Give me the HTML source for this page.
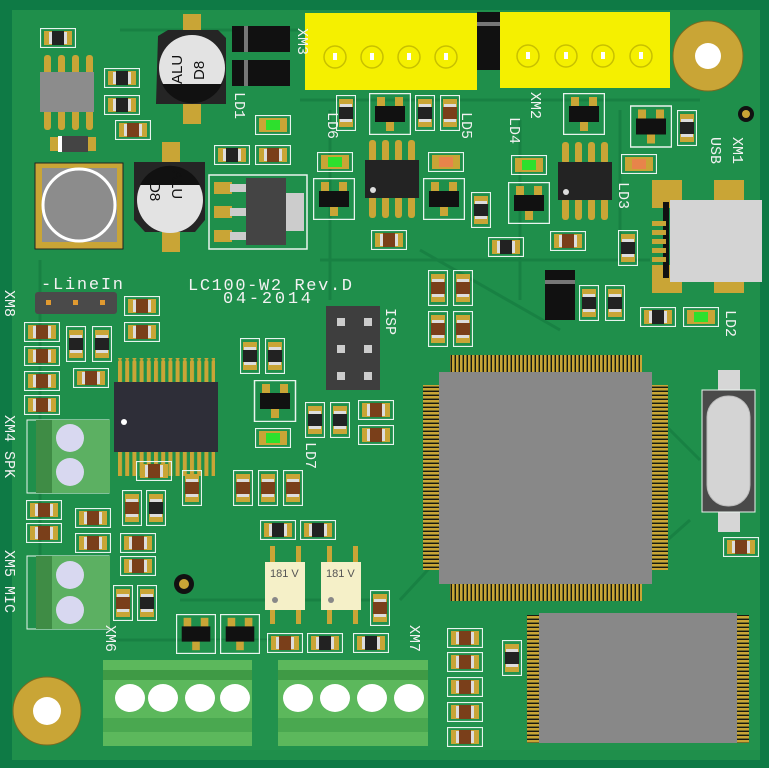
<!DOCTYPE html>
<html><head><meta charset="utf-8"><style>
html,body{margin:0;padding:0;background:#0e7a45;}
svg{display:block}
text{font-family:"Liberation Mono","DejaVu Sans Mono",monospace;fill:#f2f2f2;}
</style></head><body>
<svg width="769" height="768" viewBox="0 0 769 768" xmlns="http://www.w3.org/2000/svg">
<defs>
<symbol id="rh" viewBox="0 0 36 20"><rect x="0.5" y="0.5" width="35" height="19" fill="none" stroke="#e8f4ee" stroke-width="1.2"/><rect x="4" y="3" width="28" height="14" fill="#c9a536"/><rect x="9" y="4" width="3" height="12" fill="#ddd"/><rect x="24" y="4" width="3" height="12" fill="#ddd"/><rect x="12" y="3" width="12" height="14" fill="#7a3f1a"/></symbol>
<symbol id="ch" viewBox="0 0 36 20"><rect x="0.5" y="0.5" width="35" height="19" fill="none" stroke="#e8f4ee" stroke-width="1.2"/><rect x="4" y="3" width="28" height="14" fill="#c9a536"/><rect x="9" y="4" width="3" height="12" fill="#ddd"/><rect x="24" y="4" width="3" height="12" fill="#ddd"/><rect x="12" y="3" width="12" height="14" fill="#222"/></symbol>
<symbol id="rv" viewBox="0 0 20 36"><rect x="0.5" y="0.5" width="19" height="35" fill="none" stroke="#e8f4ee" stroke-width="1.2"/><rect x="3" y="4" width="14" height="28" fill="#c9a536"/><rect x="4" y="9" width="12" height="3" fill="#ddd"/><rect x="4" y="24" width="12" height="3" fill="#ddd"/><rect x="3" y="12" width="14" height="12" fill="#7a3f1a"/></symbol>
<symbol id="cv" viewBox="0 0 20 36"><rect x="0.5" y="0.5" width="19" height="35" fill="none" stroke="#e8f4ee" stroke-width="1.2"/><rect x="3" y="4" width="14" height="28" fill="#c9a536"/><rect x="4" y="9" width="12" height="3" fill="#ddd"/><rect x="4" y="24" width="12" height="3" fill="#ddd"/><rect x="3" y="12" width="14" height="12" fill="#222"/></symbol>
<symbol id="led" viewBox="0 0 36 20"><rect x="0.5" y="0.5" width="35" height="19" fill="none" stroke="#e8f4ee" stroke-width="1.2"/><rect x="4" y="3" width="28" height="14" fill="#c9a536"/><rect x="11" y="5" width="14" height="10" fill="#2de02d"/></symbol>
<symbol id="ledo" viewBox="0 0 36 20"><rect x="0.5" y="0.5" width="35" height="19" fill="none" stroke="#e8f4ee" stroke-width="1.2"/><rect x="4" y="3" width="28" height="14" fill="#c9a536"/><rect x="11" y="5" width="14" height="10" fill="#e8844a"/></symbol>
<symbol id="sot" viewBox="0 0 42 42"><rect x="0.5" y="0.5" width="41" height="41" fill="none" stroke="#e8f4ee" stroke-width="1.5"/><rect x="8" y="4" width="8" height="10" fill="#c9a536"/><rect x="26" y="4" width="8" height="10" fill="#c9a536"/><rect x="17" y="28" width="8" height="10" fill="#c9a536"/><rect x="6" y="13" width="30" height="16" fill="#111"/></symbol>
<symbol id="so8" viewBox="0 0 58 78"><g fill="#c9a536"><rect x="4" y="0" width="7" height="22" rx="3"/><rect x="17" y="0" width="7" height="22" rx="3"/><rect x="30" y="0" width="7" height="22" rx="3"/><rect x="43" y="0" width="7" height="22" rx="3"/><rect x="4" y="56" width="7" height="22" rx="3"/><rect x="17" y="56" width="7" height="22" rx="3"/><rect x="30" y="56" width="7" height="22" rx="3"/><rect x="43" y="56" width="7" height="22" rx="3"/></g><rect x="0" y="20" width="54" height="38" fill="#232323"/><circle cx="8" cy="50" r="3" fill="#ddd"/></symbol>
<pattern id="pv" width="4" height="10" patternUnits="userSpaceOnUse"><rect width="2.6" height="10" fill="#c9a536"/><rect x="2.6" width="1.4" height="10" fill="#1a1a10"/></pattern>
<pattern id="ph" width="10" height="4" patternUnits="userSpaceOnUse"><rect width="10" height="2.6" fill="#c9a536"/><rect y="2.6" width="10" height="1.4" fill="#1a1a10"/></pattern>
<pattern id="pw" x="118" width="7.2" height="30" patternUnits="userSpaceOnUse"><rect width="4" height="30" rx="2" fill="#c9a536"/></pattern>
</defs>
<rect x="0" y="0" width="769" height="768" fill="#0e7a45"/>
<rect x="12" y="10" width="748" height="750" fill="#1f8f4b"/>
<g stroke="#177f42" stroke-width="3" fill="none" opacity="0.9">
<path d="M120 30 H300 M40 260 V620 M420 250 L560 330 M400 600 L520 470 M660 420 L700 460 M300 100 H700 M320 260 H650 M600 600 L690 520 M180 600 H380 M110 640 H300 M520 120 L520 300 M330 110 V300 M620 110 V260"/>
</g>
<rect x="190" y="640" width="570" height="110" fill="#24944e" opacity="0.6"/>
<circle cx="708" cy="56" r="35" fill="#c9a536" stroke="#7a6a20"/><circle cx="708" cy="56" r="13" fill="#fff"/>
<circle cx="47" cy="711" r="34" fill="#c9a536" stroke="#7a6a20"/><circle cx="47" cy="711" r="14" fill="#fff"/>
<circle cx="746" cy="114" r="8" fill="#111"/><circle cx="746" cy="114" r="4" fill="#c9a536"/>
<circle cx="184" cy="584" r="10" fill="#111"/><circle cx="184" cy="584" r="5" fill="#c9a536"/>
<rect x="305" y="13" width="172" height="77" fill="#f5f000"/>
<rect x="500" y="12" width="170" height="76" fill="#f5f000"/>
<g fill="#f5f000" stroke="#c8c000" stroke-width="1.5">
<circle cx="335" cy="57" r="11"/><circle cx="372" cy="57" r="11"/><circle cx="409" cy="57" r="11"/><circle cx="446" cy="57" r="11"/>
<circle cx="528" cy="56" r="11"/><circle cx="566" cy="56" r="11"/><circle cx="603" cy="56" r="11"/><circle cx="641" cy="56" r="11"/>
</g>
<g fill="#fff"><rect x="333" y="53" width="4" height="7"/><rect x="370" y="53" width="4" height="7"/><rect x="407" y="53" width="4" height="7"/><rect x="444" y="53" width="4" height="7"/><rect x="526" y="52" width="4" height="7"/><rect x="564" y="52" width="4" height="7"/><rect x="601" y="52" width="4" height="7"/><rect x="639" y="52" width="4" height="7"/></g>
<rect x="477" y="12" width="23" height="58" fill="#111"/><rect x="477" y="22" width="23" height="4" fill="#777"/>
<rect x="232" y="26" width="58" height="26" fill="#111"/><rect x="244" y="26" width="4" height="26" fill="#777"/>
<rect x="232" y="60" width="58" height="26" fill="#111"/><rect x="244" y="60" width="4" height="26" fill="#777"/>
<rect x="183" y="14" width="18" height="20" fill="#c9a536"/><rect x="183" y="104" width="18" height="20" fill="#c9a536"/>
<path d="M158 36 L168 30 H218 L226 38 V104 H156 Z" fill="#252525"/>
<circle cx="192" cy="68" r="33" fill="#e3e3e3"/><path d="M162 84 A33 33 0 0 0 222 84 Z" fill="#111"/>
<text font-size="15" style="fill:#111;font-family:'Liberation Sans'" transform="translate(182,84) rotate(-90)">ALU</text>
<text font-size="15" style="fill:#111;font-family:'Liberation Sans'" transform="translate(204,80) rotate(-90)">D8</text>
<rect x="162" y="142" width="18" height="20" fill="#c9a536"/><rect x="162" y="232" width="18" height="20" fill="#c9a536"/>
<path d="M134 162 H205 V220 L195 232 H145 L134 220 Z" fill="#252525"/>
<circle cx="170" cy="200" r="33" fill="#e3e3e3"/><path d="M140 185 A33 33 0 0 1 200 185 Z" fill="#111"/>
<text style="fill:#111;font-family:'Liberation Sans'" font-size="15" transform="translate(172,170) rotate(90)">ALU</text>
<text style="fill:#111;font-family:'Liberation Sans'" font-size="15" transform="translate(150,182) rotate(90)">D8</text>
<g fill="#c9a536"><rect x="44" y="55" width="7" height="75" rx="3"/><rect x="58" y="55" width="7" height="75" rx="3"/><rect x="72" y="55" width="7" height="75" rx="3"/><rect x="86" y="55" width="7" height="75" rx="3"/></g>
<rect x="40" y="72" width="54" height="40" fill="#8c8c8c"/>
<rect x="50" y="137" width="46" height="14" fill="#c9a536"/><rect x="58" y="136" width="30" height="16" fill="#444"/><rect x="58" y="136" width="4" height="16" fill="#fff"/>
<rect x="35" y="163" width="88" height="86" fill="#c9a536" stroke="#222"/>
<rect x="42" y="168" width="75" height="74" fill="#8f8f8f"/>
<circle cx="79" cy="205" r="36" fill="#8c8c8c" stroke="#fff" stroke-width="3"/>
<rect x="209" y="175" width="98" height="74" fill="none" stroke="#eaf4ee" stroke-width="1.5"/>
<rect x="214" y="182" width="18" height="12" fill="#c9a536"/><rect x="214" y="206" width="18" height="12" fill="#c9a536"/><rect x="214" y="230" width="18" height="12" fill="#c9a536"/>
<rect x="230" y="184" width="16" height="8" fill="#ccc"/><rect x="230" y="208" width="16" height="8" fill="#ccc"/><rect x="230" y="232" width="16" height="8" fill="#ccc"/>
<rect x="246" y="178" width="40" height="67" fill="#444"/><rect x="286" y="193" width="18" height="38" fill="#ccc"/>
<use href="#so8" x="365" y="140" width="58" height="78"/>
<use href="#so8" x="558" y="142" width="58" height="78"/>
<use href="#sot" x="369" y="93" width="42" height="42"/>
<use href="#sot" x="563" y="93" width="42" height="42"/>
<use href="#sot" x="630" y="104" width="42" height="45"/>
<use href="#sot" x="313" y="178" width="42" height="42"/>
<use href="#sot" x="423" y="178" width="42" height="42"/>
<use href="#sot" x="508" y="182" width="42" height="42"/>
<use href="#sot" x="253" y="380" width="44" height="42"/>
<use href="#sot" x="176" y="614" width="40" height="40"/>
<use href="#sot" x="220" y="614" width="40" height="40"/>
<use href="#led" x="255" y="115" width="36" height="20"/>
<use href="#led" x="317" y="152" width="36" height="20"/>
<use href="#ledo" x="428" y="152" width="36" height="20"/>
<use href="#led" x="511" y="155" width="36" height="20"/>
<use href="#ledo" x="621" y="154" width="36" height="20"/>
<use href="#led" x="683" y="307" width="36" height="20"/>
<use href="#led" x="255" y="428" width="36" height="20"/>
<rect x="652" y="180" width="30" height="28" fill="#c9a536"/><rect x="714" y="180" width="30" height="28" fill="#c9a536"/>
<rect x="652" y="265" width="30" height="28" fill="#c9a536"/><rect x="714" y="265" width="30" height="28" fill="#c9a536"/>
<rect x="663" y="202" width="6" height="76" fill="#111"/>
<g fill="#c9a536"><rect x="652" y="221" width="14" height="5"/><rect x="652" y="230" width="14" height="5"/><rect x="652" y="239" width="14" height="5"/><rect x="652" y="248" width="14" height="5"/><rect x="652" y="257" width="14" height="5"/></g>
<rect x="670" y="200" width="92" height="82" fill="#d4d4d4"/>
<rect x="545" y="270" width="30" height="50" fill="#111"/><rect x="545" y="280" width="30" height="4" fill="#777"/>
<rect x="423" y="385" width="17" height="185" fill="url(#ph)"/>
<rect x="651" y="385" width="17" height="185" fill="url(#ph)"/>
<rect x="450" y="355" width="192" height="18" fill="url(#pv)"/>
<rect x="450" y="583" width="192" height="18" fill="url(#pv)"/>
<rect x="439" y="372" width="213" height="212" fill="#888"/>
<rect x="527" y="615" width="12" height="128" fill="url(#ph)"/>
<rect x="737" y="615" width="12" height="128" fill="url(#ph)"/>
<rect x="539" y="613" width="198" height="130" fill="#888"/>
<rect x="718" y="370" width="22" height="22" fill="#d6d6d6"/><rect x="718" y="510" width="22" height="22" fill="#d6d6d6"/>
<rect x="702" y="390" width="53" height="122" fill="#4a4a4a" stroke="#eaf4ee"/>
<rect x="707" y="396" width="43" height="110" rx="21" fill="#d4d4d4" stroke="#bbb"/>
<rect x="118" y="358" width="97" height="28" fill="url(#pw)"/>
<rect x="118" y="448" width="97" height="28" fill="url(#pw)"/>
<rect x="114" y="382" width="104" height="70" fill="#2e2e38"/><circle cx="124" cy="422" r="3" fill="#fff"/>
<rect x="35" y="292" width="82" height="22" rx="3" fill="#4a4a4a"/>
<rect x="46" y="300" width="5" height="5" fill="#e09a30"/><rect x="73" y="300" width="5" height="5" fill="#e09a30"/><rect x="100" y="300" width="5" height="5" fill="#e09a30"/>
<rect x="326" y="306" width="54" height="84" fill="#3e3e3e"/>
<g fill="#ccc"><rect x="337" y="318" width="8" height="8"/><rect x="364" y="318" width="8" height="8"/><rect x="337" y="345" width="8" height="8"/><rect x="364" y="345" width="8" height="8"/><rect x="337" y="372" width="8" height="8"/><rect x="364" y="372" width="8" height="8"/></g>
<rect x="27" y="420" width="82" height="73" fill="none" stroke="#eaf4ee"/>
<rect x="36" y="420" width="16" height="73" fill="#3f8c45"/><rect x="52" y="420" width="58" height="73" fill="#5cb062"/>
<circle cx="70" cy="438" r="14" fill="#d8d8f0"/><circle cx="70" cy="472" r="14" fill="#d8d8f0"/>
<rect x="27" y="556" width="82" height="73" fill="none" stroke="#eaf4ee"/>
<rect x="36" y="556" width="16" height="73" fill="#3f8c45"/><rect x="52" y="556" width="58" height="73" fill="#5cb062"/>
<circle cx="70" cy="575" r="14" fill="#d8d8f0"/><circle cx="70" cy="610" r="14" fill="#d8d8f0"/>
<rect x="103" y="660" width="149" height="86" fill="#5cb85c"/><rect x="103" y="670" width="149" height="10" fill="#3f9a45"/><rect x="103" y="718" width="149" height="14" fill="#4aa850"/>
<ellipse cx="130" cy="698" rx="15" ry="14" fill="#fff"/><ellipse cx="163" cy="698" rx="15" ry="14" fill="#fff"/><ellipse cx="200" cy="698" rx="15" ry="14" fill="#fff"/><ellipse cx="235" cy="698" rx="15" ry="14" fill="#fff"/>
<rect x="278" y="660" width="150" height="86" fill="#5cb85c"/><rect x="278" y="670" width="150" height="10" fill="#3f9a45"/><rect x="278" y="718" width="150" height="14" fill="#4aa850"/>
<ellipse cx="298" cy="698" rx="15" ry="14" fill="#fff"/><ellipse cx="335" cy="698" rx="15" ry="14" fill="#fff"/><ellipse cx="372" cy="698" rx="15" ry="14" fill="#fff"/><ellipse cx="409" cy="698" rx="15" ry="14" fill="#fff"/>
<rect x="270" y="546" width="5" height="16" fill="#c9a536"/><rect x="296" y="546" width="5" height="16" fill="#c9a536"/><rect x="270" y="608" width="5" height="16" fill="#c9a536"/><rect x="296" y="608" width="5" height="16" fill="#c9a536"/>
<rect x="265" y="562" width="40" height="48" fill="#f5f0c8"/><circle cx="275" cy="600" r="3" fill="#888"/>
<text x="270" y="577" font-size="11" style="fill:#555;font-family:'Liberation Sans'">181 V</text>
<rect x="327" y="546" width="5" height="16" fill="#c9a536"/><rect x="353" y="546" width="5" height="16" fill="#c9a536"/><rect x="327" y="608" width="5" height="16" fill="#c9a536"/><rect x="353" y="608" width="5" height="16" fill="#c9a536"/>
<rect x="321" y="562" width="40" height="48" fill="#f5f0c8"/><circle cx="331" cy="600" r="3" fill="#888"/>
<text x="326" y="577" font-size="11" style="fill:#555;font-family:'Liberation Sans'">181 V</text>
<use href="#ch" x="40" y="28" width="36" height="20"/>
<use href="#ch" x="104" y="68" width="36" height="20"/>
<use href="#ch" x="104" y="95" width="36" height="20"/>
<use href="#rh" x="115" y="120" width="36" height="20"/>
<use href="#ch" x="214" y="145" width="36" height="20"/>
<use href="#rh" x="255" y="145" width="36" height="20"/>
<use href="#rh" x="371" y="230" width="36" height="20"/>
<use href="#ch" x="488" y="237" width="36" height="20"/>
<use href="#rh" x="550" y="231" width="36" height="20"/>
<use href="#ch" x="640" y="307" width="36" height="20"/>
<use href="#rh" x="723" y="537" width="36" height="20"/>
<use href="#rh" x="124" y="296" width="36" height="20"/>
<use href="#rh" x="124" y="322" width="36" height="20"/>
<use href="#rh" x="24" y="322" width="36" height="20"/>
<use href="#rh" x="24" y="346" width="36" height="20"/>
<use href="#rh" x="24" y="371" width="36" height="20"/>
<use href="#rh" x="24" y="395" width="36" height="20"/>
<use href="#rh" x="73" y="368" width="36" height="20"/>
<use href="#rh" x="136" y="461" width="36" height="20"/>
<use href="#rh" x="26" y="500" width="36" height="20"/>
<use href="#rh" x="26" y="523" width="36" height="20"/>
<use href="#rh" x="75" y="508" width="36" height="20"/>
<use href="#rh" x="75" y="533" width="36" height="20"/>
<use href="#rh" x="120" y="533" width="36" height="20"/>
<use href="#rh" x="120" y="556" width="36" height="20"/>
<use href="#rh" x="358" y="400" width="36" height="20"/>
<use href="#rh" x="358" y="425" width="36" height="20"/>
<use href="#ch" x="260" y="520" width="36" height="20"/>
<use href="#ch" x="300" y="520" width="36" height="20"/>
<use href="#rh" x="267" y="633" width="36" height="20"/>
<use href="#ch" x="307" y="633" width="36" height="20"/>
<use href="#ch" x="353" y="633" width="36" height="20"/>
<use href="#rh" x="447" y="628" width="36" height="20"/>
<use href="#rh" x="447" y="652" width="36" height="20"/>
<use href="#rh" x="447" y="677" width="36" height="20"/>
<use href="#rh" x="447" y="702" width="36" height="20"/>
<use href="#rh" x="447" y="727" width="36" height="20"/>
<use href="#cv" x="66" y="326" width="20" height="36"/>
<use href="#cv" x="92" y="326" width="20" height="36"/>
<use href="#cv" x="240" y="338" width="20" height="36"/>
<use href="#cv" x="265" y="338" width="20" height="36"/>
<use href="#cv" x="305" y="402" width="20" height="36"/>
<use href="#cv" x="330" y="402" width="20" height="36"/>
<use href="#rv" x="182" y="470" width="20" height="36"/>
<use href="#rv" x="233" y="470" width="20" height="36"/>
<use href="#rv" x="258" y="470" width="20" height="36"/>
<use href="#rv" x="283" y="470" width="20" height="36"/>
<use href="#rv" x="122" y="490" width="20" height="36"/>
<use href="#cv" x="146" y="490" width="20" height="36"/>
<use href="#rv" x="113" y="585" width="20" height="36"/>
<use href="#cv" x="137" y="585" width="20" height="36"/>
<use href="#rv" x="370" y="590" width="20" height="36"/>
<use href="#cv" x="336" y="95" width="20" height="36"/>
<use href="#cv" x="415" y="95" width="20" height="36"/>
<use href="#rv" x="440" y="95" width="20" height="36"/>
<use href="#cv" x="471" y="192" width="20" height="36"/>
<use href="#cv" x="677" y="110" width="20" height="36"/>
<use href="#cv" x="618" y="230" width="20" height="36"/>
<use href="#cv" x="579" y="285" width="20" height="36"/>
<use href="#cv" x="605" y="285" width="20" height="36"/>
<use href="#rv" x="428" y="270" width="20" height="36"/>
<use href="#rv" x="453" y="270" width="20" height="36"/>
<use href="#rv" x="428" y="311" width="20" height="36"/>
<use href="#rv" x="453" y="311" width="20" height="36"/>
<use href="#cv" x="502" y="640" width="20" height="36"/>
<text x="188" y="290" font-size="17" textLength="164">LC100-W2 Rev.D</text>
<text x="223" y="303" font-size="17" textLength="88">04-2014</text>
<text x="41" y="289" font-size="17" textLength="82">-LineIn</text>
<g font-size="15">
<text transform="translate(298,28) rotate(90)">XM3</text>
<text transform="translate(235,92) rotate(90)">LD1</text>
<text transform="translate(328,112) rotate(90)">LD6</text>
<text transform="translate(462,112) rotate(90)">LD5</text>
<text transform="translate(531,92) rotate(90)">XM2</text>
<text transform="translate(510,117) rotate(90)">LD4</text>
<text transform="translate(619,182) rotate(90)">LD3</text>
<text transform="translate(733,137) rotate(90)">XM1</text>
<text transform="translate(711,137) rotate(90)">USB</text>
<text transform="translate(726,310) rotate(90)">LD2</text>
<text transform="translate(386,308) rotate(90)">ISP</text>
<text transform="translate(306,442) rotate(90)">LD7</text>
<text transform="translate(5,290) rotate(90)">XM8</text>
<text transform="translate(5,415) rotate(90)">XM4 SPK</text>
<text transform="translate(5,550) rotate(90)">XM5 MIC</text>
<text transform="translate(106,625) rotate(90)">XM6</text>
<text transform="translate(410,625) rotate(90)">XM7</text>
</g>
</svg>
</body></html>
